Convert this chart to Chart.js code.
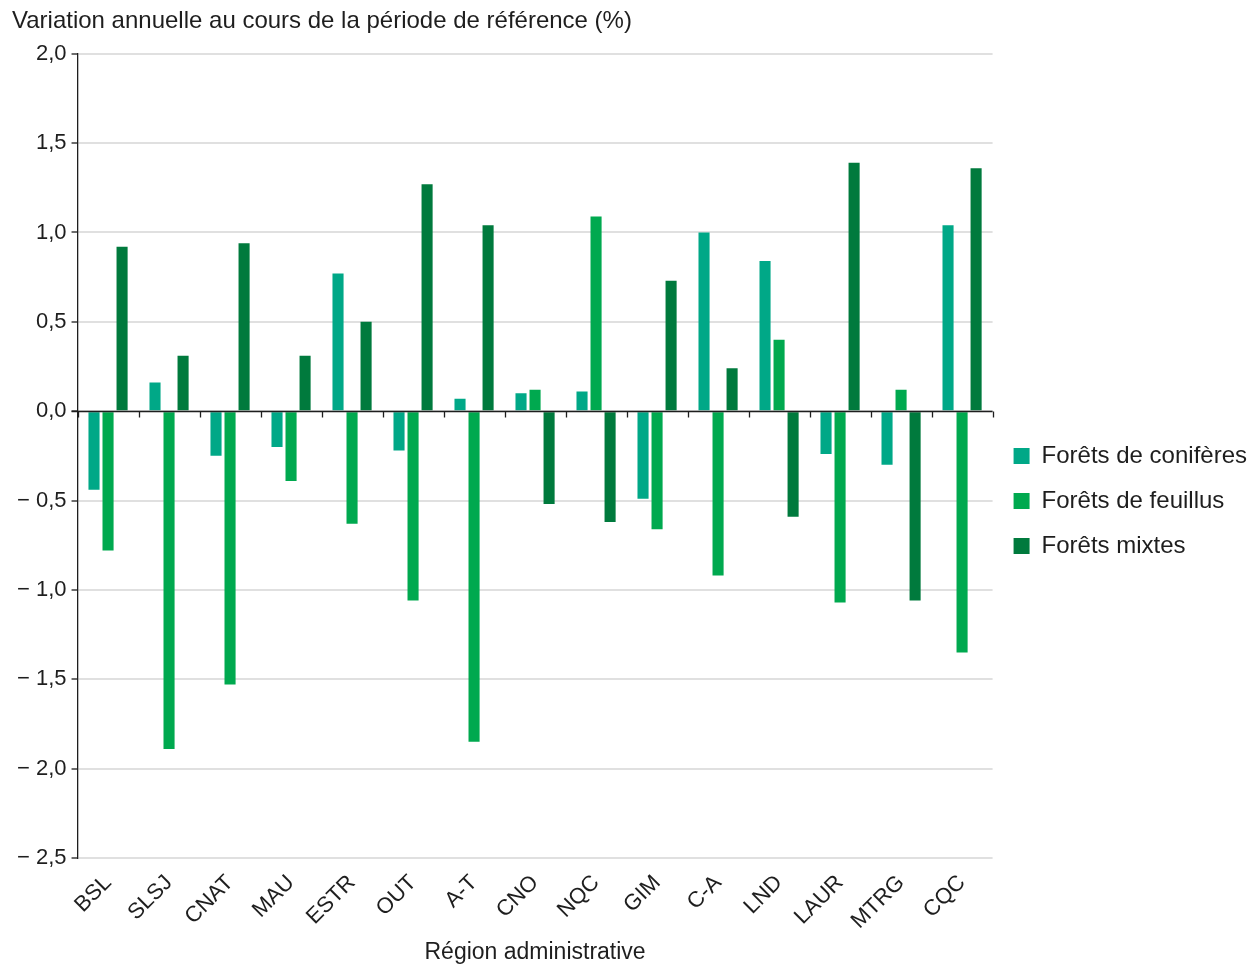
<!DOCTYPE html>
<html>
<head>
<meta charset="utf-8">
<script src="https://cdn.jsdelivr.net/npm/chart.js@4"></script>
<style>
  body { margin: 0; background: #fff; }
  #wrap { width: 1260px; height: 966px; }
</style>
</head>
<body>
<div id="wrap"><canvas id="chart" width="1260" height="966"></canvas></div>
<script>
const regions = ["BSL", "SLSJ", "CNAT", "MAU", "ESTR", "OUT", "A-T", "CNO", "NQC", "GIM", "C-A", "LND", "LAUR", "MTRG", "CQC"];
const coniferes = [-0.44, 0.16, -0.25, -0.20, 0.77, -0.22, 0.07, 0.10, 0.11, -0.49, 1.00, 0.84, -0.24, -0.30, 1.04];
const feuillus = [-0.78, -1.89, -1.53, -0.39, -0.63, -1.06, -1.85, 0.12, 1.09, -0.66, -0.92, 0.40, -1.07, 0.12, -1.35];
const mixtes = [0.92, 0.31, 0.94, 0.31, 0.50, 1.27, 1.04, -0.52, -0.62, 0.73, 0.24, -0.59, 1.39, -1.06, 1.36];

const FONT = "'Liberation Sans', Arial, sans-serif";
const INK = "#1e1e1e";

function fmt(v) {
  const s = Math.abs(v).toFixed(1).replace(".", ",");
  return v < 0 ? "\u2212 " + s : s;
}

// zero line with small ticks at category boundaries
const zeroAxis = {
  id: "zeroAxis",
  afterDatasetsDraw(chart) {
    const { ctx, chartArea, scales } = chart;
    const y0 = Math.round(scales.y.getPixelForValue(0)) + 0.5;
    const n = regions.length;
    const w = (chartArea.right - chartArea.left) / n;
    ctx.save();
    ctx.strokeStyle = INK;
    ctx.lineWidth = 1.3;
    ctx.beginPath();
    ctx.moveTo(chartArea.left - 6, y0);
    ctx.lineTo(chartArea.right, y0);
    for (let i = 0; i <= n; i++) {
      const x = Math.round(chartArea.left + i * w) + 0.5;
      ctx.moveTo(x, y0);
      ctx.lineTo(x, y0 + 6);
    }
    ctx.stroke();
    ctx.restore();
  }
};

new Chart(document.getElementById("chart"), {
  type: "bar",
  data: {
    labels: regions,
    datasets: [
      { label: "Forêts de conifères", data: coniferes, backgroundColor: "#00A887" },
      { label: "Forêts de feuillus", data: feuillus, backgroundColor: "#00A94F" },
      { label: "Forêts mixtes", data: mixtes, backgroundColor: "#007A3D" }
    ]
  },
  options: {
    responsive: false,
    animation: false,
    datasets: { bar: { categoryPercentage: 0.69, barPercentage: 0.79 } },
    layout: { padding: { left: 12, right: 3, top: 7, bottom: 0 } },
    plugins: {
      title: {
        display: true,
        text: "Variation annuelle au cours de la période de référence (%)",
        align: "start",
        color: INK,
        font: { family: FONT, size: 24, weight: "normal" },
        padding: { top: 0, bottom: 18 }
      },
      legend: {
        position: "right",
        title: { display: true, text: " ", font: { family: FONT, size: 24 }, padding: 0 },
        labels: {
          color: INK,
          font: { family: FONT, size: 24 },
          boxWidth: 16,
          boxHeight: 16,
          padding: 21
        }
      },
      tooltip: { enabled: false }
    },
    scales: {
      x: {
        grid: { display: false },
        border: { display: false },
        ticks: {
          color: INK,
          font: { family: FONT, size: 22 },
          minRotation: 45,
          maxRotation: 45,
          padding: 4
        },
        title: {
          display: true,
          text: "Région administrative",
          color: INK,
          font: { family: FONT, size: 23 },
          padding: { top: 0, bottom: 0 }
        }
      },
      y: {
        min: -2.5,
        max: 2,
        grid: { color: "#e0e0e0", lineWidth: 2, tickColor: INK, tickLength: 6, tickWidth: 1.3 },
        border: { display: true, color: INK, width: 1.3 },
        ticks: {
          stepSize: 0.5,
          color: INK,
          font: { family: FONT, size: 22 },
          padding: 5,
          callback: v => fmt(v)
        }
      }
    }
  },
  plugins: [zeroAxis]
});
</script>
</body>
</html>
